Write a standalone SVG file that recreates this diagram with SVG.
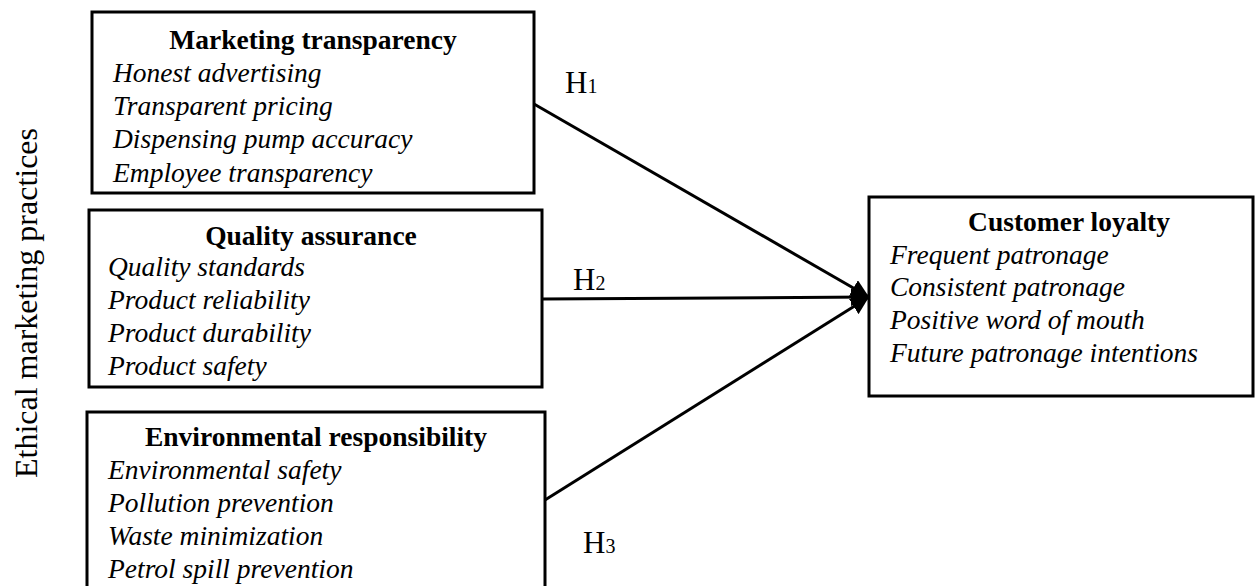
<svg xmlns="http://www.w3.org/2000/svg" width="1257" height="586" viewBox="0 0 1257 586">
<style>
  text { font-family: "Liberation Serif", "Times New Roman", serif; fill: #000; }
  .box { fill: #fff; stroke: #000; stroke-width: 3; }
  .title { font-size: 27.5px; font-weight: bold; text-anchor: middle; }
  .item { font-size: 27.5px; font-style: italic; }
  .h { font-size: 31px; }
  .sub { font-size: 20px; }
  .side { font-size: 32px; text-anchor: middle; }
  .conn { stroke: #000; stroke-width: 3; fill: none; marker-end: url(#arr); }
</style>
<defs>
  <marker id="arr" markerUnits="userSpaceOnUse" markerWidth="20" markerHeight="18" refX="18" refY="9" orient="auto">
    <path d="M0,0 L18,9 L0,18 Z" fill="#000"/>
  </marker>
  <clipPath id="c1"><rect x="93" y="13" width="440" height="177"/></clipPath>
  <clipPath id="c2"><rect x="90" y="211" width="451" height="174.5"/></clipPath>
  <clipPath id="c3"><rect x="88" y="413" width="456" height="200"/></clipPath>
</defs>
<rect width="1257" height="586" fill="#fff"/>

<g id="side-label">
  <text class="side" transform="translate(37,303) rotate(-90)">Ethical marketing practices</text>
</g>

<g id="connectors">
  <line class="conn" x1="534" y1="104" x2="869" y2="297"/>
  <line class="conn" x1="542" y1="299" x2="869" y2="297"/>
  <line class="conn" x1="545" y1="500" x2="869" y2="297"/>
  <text class="h" x="565" y="93">H<tspan class="sub">1</tspan></text>
  <text class="h" x="573" y="290">H<tspan class="sub">2</tspan></text>
  <text class="h" x="583" y="553">H<tspan class="sub">3</tspan></text>
</g>

<g id="marketing-transparency">
  <rect class="box" x="92" y="12" width="442" height="181"/>
  <g clip-path="url(#c1)">
    <text class="title" x="313" y="49">Marketing transparency</text>
    <text class="item" x="113" y="82">Honest advertising</text>
    <text class="item" x="113" y="115">Transparent pricing</text>
    <text class="item" x="113" y="148">Dispensing pump accuracy</text>
    <text class="item" x="113" y="182">Employee transparency</text>
  </g>
</g>

<g id="quality-assurance">
  <rect class="box" x="89" y="210" width="453" height="177"/>
  <g clip-path="url(#c2)">
    <text class="title" x="311" y="245">Quality assurance</text>
    <text class="item" x="108" y="276">Quality standards</text>
    <text class="item" x="108" y="309">Product reliability</text>
    <text class="item" x="108" y="342">Product durability</text>
    <text class="item" x="108" y="375">Product safety</text>
  </g>
</g>

<g id="environmental-responsibility">
  <rect class="box" x="87" y="412" width="458" height="200"/>
  <g clip-path="url(#c3)">
    <text class="title" x="316" y="446">Environmental responsibility</text>
    <text class="item" x="108" y="479">Environmental safety</text>
    <text class="item" x="108" y="512">Pollution prevention</text>
    <text class="item" x="108" y="545">Waste minimization</text>
    <text class="item" x="108" y="578">Petrol spill prevention</text>
  </g>
</g>

<g id="customer-loyalty">
  <rect class="box" x="869" y="197" width="384" height="199"/>
  <text class="title" x="1069" y="231">Customer loyalty</text>
  <text class="item" x="890" y="264">Frequent patronage</text>
  <text class="item" x="890" y="296">Consistent patronage</text>
  <text class="item" x="890" y="329">Positive word of mouth</text>
  <text class="item" x="890" y="362">Future patronage intentions</text>
</g>
</svg>
